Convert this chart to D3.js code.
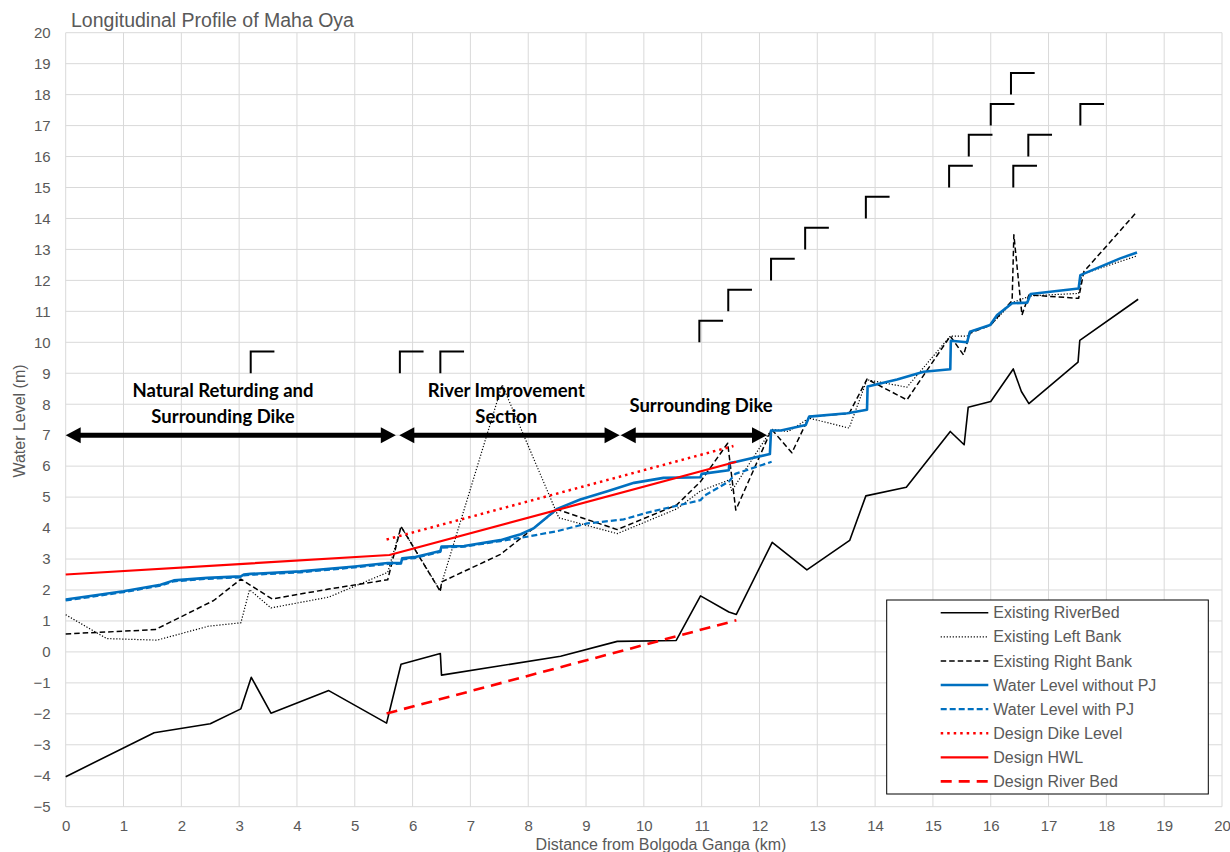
<!DOCTYPE html>
<html>
<head>
<meta charset="utf-8">
<script src="https://cdn.jsdelivr.net/npm/d3@7"></script>
<style>
  html, body { margin: 0; padding: 0; background: #fff; }
  svg { display: block; }
  text { font-family: "Liberation Sans", Arial, sans-serif; }
</style>
</head>
<body>
<svg id="chart" width="1230" height="852"></svg>
<script>
// ---- Existing river bed (distance km, level m)
const bedX = [0, 1.53, 2.5, 3.03, 3.21, 3.55, 4.55, 5.55, 5.8, 6.48, 6.5, 7.52, 8.56, 9.54, 10.56, 10.98, 11.47, 11.6, 12.22, 12.82, 13.56, 13.84, 14.54, 15.3, 15.54, 15.61, 16.0, 16.39, 16.53, 16.66, 17.51, 17.54, 18.55];
const bedY = [-4.03, -2.61, -2.32, -1.84, -0.82, -1.98, -1.25, -2.3, -0.4, -0.05, -0.75, -0.45, -0.14, 0.34, 0.37, 1.81, 1.29, 1.21, 3.54, 2.65, 3.6, 5.04, 5.32, 7.12, 6.69, 7.9, 8.09, 9.14, 8.41, 8.02, 9.36, 10.06, 11.39];

// ---- Existing left bank
const leftX = [0, 0.71, 1.58, 2.47, 3.03, 3.18, 3.55, 4.55, 5.57, 5.8, 6.48, 6.5, 7.55, 8.53, 9.54, 10.57, 10.98, 11.47, 11.52, 12.21, 12.5, 12.86, 13.55, 13.86, 14.55, 15.3, 15.59, 15.64, 16.0, 16.37, 16.69, 17.52, 17.58, 18.53];
const leftY = [1.2, 0.43, 0.38, 0.83, 0.94, 2.01, 1.42, 1.77, 2.57, 4.05, 1.97, 2.2, 8.63, 4.33, 3.82, 4.62, 5.2, 5.55, 5.2, 7.19, 7.12, 7.55, 7.23, 8.79, 8.55, 10.2, 10.2, 10.34, 10.56, 11.28, 11.5, 11.58, 12.2, 12.79];

// ---- Existing right bank
const rightX = [0, 1.55, 2.56, 3.03, 3.57, 4.55, 5.57, 5.8, 6.48, 6.5, 7.52, 8.5, 9.54, 10.57, 10.98, 11.45, 11.59, 12.21, 12.56, 12.86, 13.55, 13.86, 14.55, 15.3, 15.53, 15.64, 16.0, 16.37, 16.4, 16.54, 16.66, 17.52, 17.61, 18.52];
const rightY = [0.58, 0.72, 1.66, 2.35, 1.71, 2.03, 2.33, 4.05, 1.95, 2.26, 3.15, 4.6, 3.95, 4.75, 5.5, 6.74, 4.58, 7.19, 6.43, 7.6, 7.7, 8.81, 8.14, 10.2, 9.59, 10.29, 10.56, 11.35, 13.47, 10.88, 11.53, 11.42, 12.28, 14.2];

// ---- Water level without PJ
const wlX = [0, 1.0, 1.64, 1.87, 2.45, 3.03, 3.08, 3.2, 4.06, 5.0, 5.57, 5.8, 5.82, 6.03, 6.48, 6.5, 6.89, 7.52, 7.87, 8.1, 8.5, 8.9, 9.37, 9.83, 10.34, 10.98, 11.0, 11.47, 11.48, 11.6, 12.18, 12.2, 12.37, 12.8, 12.86, 13.52, 13.86, 13.87, 14.38, 14.84, 15.3, 15.31, 15.59, 15.64, 15.99, 16.11, 16.37, 16.63, 16.69, 17.52, 17.55, 18.24, 18.53];
const wlY = [1.69, 1.96, 2.17, 2.31, 2.39, 2.44, 2.5, 2.52, 2.6, 2.76, 2.87, 2.87, 3.02, 3.06, 3.26, 3.4, 3.42, 3.61, 3.8, 4.0, 4.62, 4.92, 5.19, 5.46, 5.62, 5.64, 5.75, 5.87, 6.1, 6.14, 6.39, 7.15, 7.15, 7.33, 7.6, 7.71, 7.82, 8.57, 8.8, 9.05, 9.13, 10.05, 10.0, 10.34, 10.56, 10.88, 11.26, 11.28, 11.56, 11.74, 12.17, 12.71, 12.9];

// ---- Water level with PJ
const wpX = [0, 1.0, 1.64, 1.87, 2.45, 3.03, 3.08, 3.2, 4.06, 5.0, 5.57, 5.8, 5.82, 6.03, 6.48, 6.5, 6.89, 7.52, 7.98, 8.5, 9.02, 9.65, 10.06, 10.52, 10.98, 11.05, 11.47, 11.58, 12.21];
const wpY = [1.66, 1.93, 2.14, 2.28, 2.36, 2.41, 2.47, 2.49, 2.57, 2.73, 2.84, 2.85, 2.99, 3.03, 3.23, 3.37, 3.4, 3.58, 3.72, 3.9, 4.15, 4.28, 4.5, 4.7, 4.9, 5.05, 5.5, 5.75, 6.14];

// ---- Design values
const dikeX = [5.55, 11.55];
const dikeY = [3.63, 6.65];
const hwlX = [0, 5.6, 11.6];
const hwlY = [2.5, 3.13, 6.14];
const dbedX = [5.55, 11.6];
const dbedY = [-1.99, 1.02];

// ---- Section annotations (start km, end km, level m)
const sectStart = [0, 5.77, 9.6];
const sectEnd = [5.71, 9.58, 12.13];
const sectLevel = 7;
const sectLines = [["Natural Returding and", "Surrounding Dike"], ["River Improvement", "Section"], ["Surrounding Dike"]];
const sectLabelX = [2.72, 7.62, 10.99];

// ---- Structure markers (km, base level m)
const markX = [3.2, 5.78, 6.48, 10.96, 11.46, 12.2, 12.79, 13.84, 15.28, 15.62, 16.0, 16.35, 16.39, 16.65, 17.55];
const markY = [9, 9, 9, 10, 11, 12, 13, 14, 15, 16, 17, 18, 15, 16, 17];

// ---- Axis ticks
const xTicks = d3.range(0, 21, 1);
const yTicks = d3.range(-5, 21, 1);

const svg = d3.select("#chart");
const x = d3.scaleLinear().domain([0, 20]).range([65.7, 1222]);
const y = d3.scaleLinear().domain([-5, 20]).range([806.7, 32.7]);

const grey = "#595959";
const gridC = "#d9d9d9";

// grid
svg.append("g").selectAll("line").data(xTicks).join("line")
  .attr("x1", d => x(d)).attr("x2", d => x(d))
  .attr("y1", y(20)).attr("y2", y(-5))
  .attr("stroke", gridC).attr("stroke-width", 1);
svg.append("g").selectAll("line").data(yTicks).join("line")
  .attr("x1", x(0)).attr("x2", x(20))
  .attr("y1", d => y(d)).attr("y2", d => y(d))
  .attr("stroke", gridC).attr("stroke-width", 1);

// axes (labels only)
const xAxis = svg.append("g").attr("transform", `translate(0,${y(-5)})`)
  .call(d3.axisBottom(x).tickValues(xTicks).tickSize(0).tickPadding(14).tickFormat(d3.format("d")));
const yAxis = svg.append("g").attr("transform", `translate(${x(0)},0)`)
  .call(d3.axisLeft(y).tickValues(yTicks).tickSize(0).tickPadding(15).tickFormat(d3.format("d")));
[xAxis, yAxis].forEach(a => {
  a.select(".domain").remove();
  a.selectAll("text").attr("fill", grey).style("font-size", "15px")
    .style("font-family", '"Liberation Sans", Arial, sans-serif');
});

// titles
svg.append("text").attr("x", 71).attr("y", 27).attr("fill", grey)
  .style("font-size", "19.5px").text("Longitudinal Profile of Maha Oya");
svg.append("text").attr("transform", "translate(25,421) rotate(-90)")
  .attr("text-anchor", "middle").attr("fill", grey).style("font-size", "16px")
  .text("Water Level (m)");
svg.append("text").attr("x", 661).attr("y", 850)
  .attr("text-anchor", "middle").attr("fill", grey).style("font-size", "16px")
  .text("Distance from Bolgoda Ganga (km)");

// series
const series = [
  { name: "Existing RiverBed", xs: bedX, ys: bedY, color: "#000", w: 1.6, dash: null },
  { name: "Existing Left Bank", xs: leftX, ys: leftY, color: "#000", w: 1.2, dash: "1.2,1.8" },
  { name: "Existing Right Bank", xs: rightX, ys: rightY, color: "#000", w: 1.5, dash: "5.5,3" },
  { name: "Water Level without PJ", xs: wlX, ys: wlY, color: "#0070C0", w: 2.6, dash: null },
  { name: "Water Level with PJ", xs: wpX, ys: wpY, color: "#0070C0", w: 2.2, dash: "6,3" },
  { name: "Design Dike Level", xs: dikeX, ys: dikeY, color: "#FF0000", w: 2.5, dash: "2.5,4" },
  { name: "Design HWL", xs: hwlX, ys: hwlY, color: "#FF0000", w: 2.2, dash: null },
  { name: "Design River Bed", xs: dbedX, ys: dbedY, color: "#FF0000", w: 2.6, dash: "11,7" }
];

// structure markers
svg.append("g").selectAll("path").data(markX.map((d, i) => [d, markY[i]])).join("path")
  .attr("d", d => `M${x(d[0])},${y(d[1])}V${y(d[1] + 0.7)}H${x(d[0] + 0.41)}`)
  .attr("fill", "none").attr("stroke", "#000").attr("stroke-width", 2);

const line = d3.line().x(d => x(d[0])).y(d => y(d[1]));
const lines = svg.append("g");
series.forEach(s => {
  lines.append("path")
    .datum(s.xs.map((v, i) => [v, s.ys[i]]))
    .attr("d", line)
    .attr("fill", "none")
    .attr("stroke", s.color)
    .attr("stroke-width", s.w)
    .attr("stroke-linejoin", "round")
    .attr("stroke-dasharray", s.dash);
});

// section arrows
const ann = svg.append("g");
const head = 15, half = 8;
sectStart.forEach((s, i) => {
  const x1 = x(s), x2 = x(sectEnd[i]), yy = y(sectLevel);
  ann.append("line").attr("x1", x1 + head - 1).attr("x2", x2 - head + 1)
    .attr("y1", yy).attr("y2", yy).attr("stroke", "#000").attr("stroke-width", 5);
  ann.append("path").attr("d", `M${x1},${yy}L${x1 + head},${yy - half}L${x1 + head},${yy + half}Z`).attr("fill", "#000");
  ann.append("path").attr("d", `M${x2},${yy}L${x2 - head},${yy - half}L${x2 - head},${yy + half}Z`).attr("fill", "#000");
  const t = ann.append("text")
    .attr("x", x(sectLabelX[i]))
    .attr("text-anchor", "middle")
    .style("font-family", "Lato, 'Open Sans', sans-serif")
    .style("font-weight", "bold")
    .style("font-size", "18.5px")
    .attr("fill", "#000");
  const lns = sectLines[i];
  const base = lns.length === 2 ? y(sectLevel) - 38 : y(sectLevel) - 23;
  lns.forEach((l, j) => t.append("tspan").attr("x", x(sectLabelX[i])).attr("y", base + j * 25.5).text(l));
});

// legend
const lg = svg.append("g");
lg.append("rect").attr("x", 886.7).attr("y", 600).attr("width", 321.6).attr("height", 194)
  .attr("fill", "#fff").attr("stroke", "#000").attr("stroke-width", 1);
series.forEach((s, i) => {
  const yy = 612.7 + i * 24.1;
  lg.append("line").attr("x1", 940.7).attr("x2", 988.3).attr("y1", yy).attr("y2", yy)
    .attr("stroke", s.color).attr("stroke-width", s.w).attr("stroke-dasharray", s.dash);
  lg.append("text").attr("x", 993.3).attr("y", yy).attr("dy", "0.35em")
    .attr("fill", grey).style("font-size", "16px").text(s.name);
});
</script>
</body>
</html>
